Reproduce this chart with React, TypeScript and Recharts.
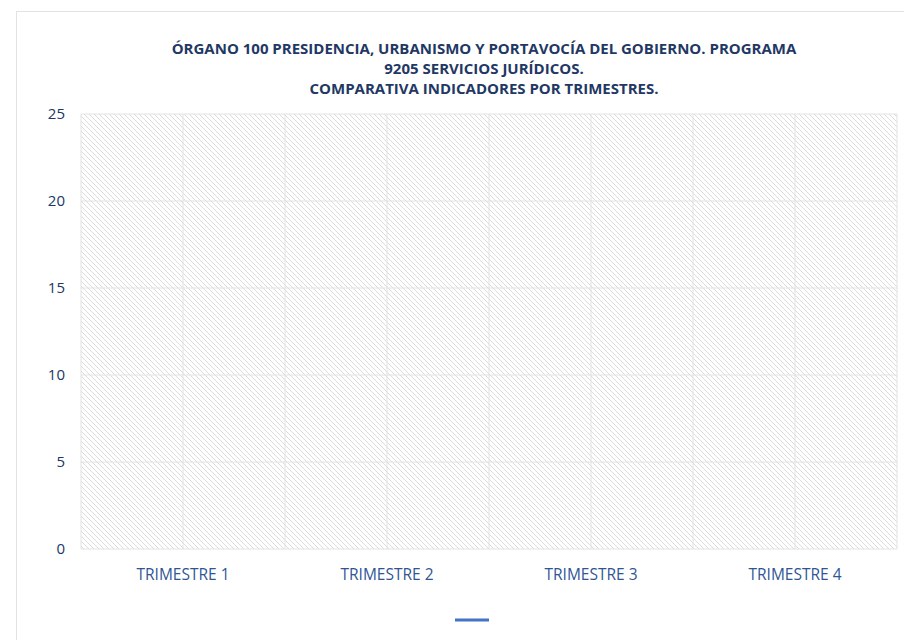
import { LineChart, Line, XAxis, YAxis, CartesianGrid, Legend } from "recharts";

// ── Datos ─────────────────────────────────────────────────────────────────────
const TRIMESTRES = ["TRIMESTRE 1", "TRIMESTRE 2", "TRIMESTRE 3", "TRIMESTRE 4"];
const VALORES: (number | null)[] = [null, null, null, null];
const Y_TICKS = [0, 5, 10, 15, 20, 25];
const TITULO = [
  "ÓRGANO 100 PRESIDENCIA, URBANISMO Y PORTAVOCÍA DEL GOBIERNO. PROGRAMA",
  "9205 SERVICIOS JURÍDICOS.",
  "COMPARATIVA INDICADORES POR TRIMESTRES.",
];

const data = TRIMESTRES.map((t, i) => ({ trimestre: t, valor: VALORES[i] }));

const FONT = "'Open Sans', sans-serif";
const GRID = "#e2e2e2";

function LeyendaLinea() {
  return (
    <svg width={36} height={6} style={{ display: "block" }}>
      <line x1={1} y1={3} x2={35} y2={3} stroke="#4472C4" strokeWidth={3} />
    </svg>
  );
}

export default function App() {
  return (
    <div style={{ position: "fixed", left: 0, top: 0, width: 904, height: 640, overflow: "hidden", background: "#fff" }}>
      <svg width={0} height={0} style={{ position: "absolute" }}>
        <defs>
          <pattern id="hatch" patternUnits="userSpaceOnUse" width={5} height={5}>
            <path d="M0,0 L5,5 M-1,4 L1,6 M4,-1 L6,1" stroke="#dcdcdc" strokeWidth={1} />
          </pattern>
        </defs>
      </svg>
      <div style={{ position: "absolute", left: 16, top: 11, width: 900, height: 640, border: `1px solid ${GRID}`, fontFamily: FONT }}>
        <div style={{ position: "absolute", left: 0, top: 26, width: 934, textAlign: "center", color: "#1F3864", fontWeight: 700, fontSize: 15, lineHeight: "20px" }}>
          {TITULO.map((l, i) => <div key={i}>{l}</div>)}
        </div>
        <LineChart width={900} height={628} data={data} margin={{ top: 102, right: 20, bottom: 55, left: 0 }}>
          <CartesianGrid
            stroke={GRID}
            fill="url(#hatch)"
            verticalCoordinatesGenerator={({ offset }: any) =>
              Array.from({ length: 9 }, (_, k) => offset.left + (offset.width * k) / 8)}
          />
          <XAxis dataKey="trimestre" type="category" scale="band" axisLine={false} tickLine={false} tickSize={0} tickMargin={20}
            tick={{ fill: "#2F5597", fontSize: 15.5, fontFamily: FONT }} />
          <YAxis type="number" domain={[0, 25]} allowDataOverflow ticks={Y_TICKS} width={64} axisLine={false} tickLine={false} tickSize={0} tickMargin={16}
            tick={{ fill: "#203864", fontSize: 15, fontFamily: FONT }} />
          <Legend content={() => <LeyendaLinea />}
            wrapperStyle={{ position: "absolute", left: 437, top: 605, width: 36, height: 6 }} />
          <Line dataKey="valor" name="" stroke="#4472C4" strokeWidth={2.5} dot={false} isAnimationActive={false} />
        </LineChart>
      </div>
    </div>
  );
}
